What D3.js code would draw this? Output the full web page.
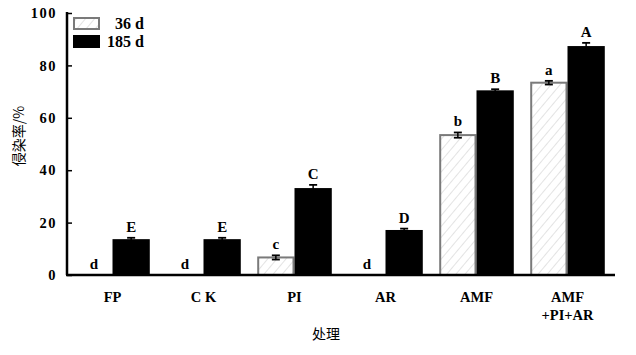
<!DOCTYPE html>
<html><head><meta charset="utf-8">
<script src="https://cdn.jsdelivr.net/npm/d3@7"></script>
<style>body{margin:0;background:#fff}</style>
</head><body>
<svg id="c" width="636" height="355"></svg>
<script>
const categories = ["FP", "C K", "PI", "AR", "AMF", "AMF\n+PI+AR"];
const seriesNames = ["36 d", "185 d"];
const values36 = [0, 0, 6.7, 0, 53.4, 73.4];
const errors36 = [0, 0, 0.8, 0, 1.0, 0.7];
const letters36 = ["d", "d", "c", "d", "b", "a"];
const values185 = [13.3, 13.3, 32.8, 16.8, 70.1, 87.0];
const errors185 = [0.9, 0.9, 1.6, 0.9, 0.8, 1.6];
const letters185 = ["E", "E", "C", "D", "B", "A"];
const yTicks = [0, 20, 40, 60, 80, 100];

const svg = d3.select("#c");
const defs = svg.append("defs");
const pat = defs.append("pattern").attr("id","hatch").attr("patternUnits","userSpaceOnUse")
  .attr("width",7).attr("height",7).attr("patternTransform","rotate(40)");
pat.append("rect").attr("width",7).attr("height",7).attr("fill","#fff");
pat.append("line").attr("x1",0).attr("y1",0).attr("x2",0).attr("y2",7).attr("stroke","#c8c8c8").attr("stroke-width",1);

const x0 = 67, x1 = 613, yTop = 13, yBot = 275;
const x = d3.scaleBand().domain(categories).range([x0, x1]).paddingInner(0).paddingOuter(0);
const xs = d3.scaleBand().domain(seriesNames).range([0, x.bandwidth()]).paddingInner(0).paddingOuter(0.22);
const y = d3.scaleLinear().domain([0, 100]).range([yBot, yTop]);

const serif = "'Liberation Serif','Times New Roman',serif";
const g = svg.append("g");

const data = categories.map((c,i)=>({c,i}));
const series = [
  {name: seriesNames[0], vals: values36, errs: errors36, lets: letters36, fill: "url(#hatch)", stroke: "#7a7a7a"},
  {name: seriesNames[1], vals: values185, errs: errors185, lets: letters185, fill: "#000", stroke: "#000"}
];

series.forEach(s => {
  data.forEach(d => {
    const v = s.vals[d.i];
    const bx = x(d.c) + xs(s.name);
    const bw = xs.bandwidth();
    if (v > 0) {
      g.append("rect").attr("x", bx + 1).attr("y", y(v)).attr("width", bw - 2).attr("height", y(0) - y(v))
        .attr("fill", s.fill).attr("stroke", s.stroke).attr("stroke-width", 2);
      const e = s.errs[d.i];
      const cx = bx + bw / 2;
      g.append("line").attr("x1", cx).attr("x2", cx).attr("y1", y(v + e)).attr("y2", y(v - e)).attr("stroke", "#000").attr("stroke-width", 1.5);
      g.append("line").attr("x1", cx - 4).attr("x2", cx + 4).attr("y1", y(v + e)).attr("y2", y(v + e)).attr("stroke", "#000").attr("stroke-width", 1.8);
      g.append("line").attr("x1", cx - 4).attr("x2", cx + 4).attr("y1", y(v - e)).attr("y2", y(v - e)).attr("stroke", "#000").attr("stroke-width", 1.8);
    }
    const e = s.errs[d.i];
    g.append("text").attr("x", bx + bw / 2).attr("y", y(v + e) - 6)
      .attr("text-anchor", "middle").attr("font-family", serif).attr("font-weight", "bold").attr("font-size", 15)
      .text(s.lets[d.i]);
  });
});

// axes
const yAxis = d3.axisLeft(y).tickValues(yTicks).tickSize(-5).tickPadding(10);
const ya = svg.append("g").attr("transform", `translate(${x0},0)`).call(yAxis);
ya.select(".domain").attr("stroke-width", 2.5).attr("d", `M0,${yTop - 1}V${yBot}`);
ya.selectAll(".tick line").attr("stroke-width", 1.5);
ya.selectAll("text").attr("font-family", serif).attr("font-weight", "bold").attr("font-size", 14.5).attr("letter-spacing", 1.5).attr("fill", "#000");

const xAxis = d3.axisBottom(x).tickSize(0).tickPadding(14).tickFormat(()=>"");
const xa = svg.append("g").attr("transform", `translate(0,${yBot})`).call(xAxis);
xa.select(".domain").attr("stroke-width", 2.5).attr("d", `M${x0 - 1},0H${x1 + 2}`);
xa.selectAll(".tick").each(function(d){
  const t = d3.select(this).append("text").attr("fill","#000").attr("text-anchor","middle")
    .attr("font-family", serif).attr("font-weight","bold").attr("font-size",14.5);
  d.split("\n").forEach((line, k) => {
    t.append("tspan").attr("x", 0).attr("y", 27 + k * 18).text(line);
  });
});

// axis titles
svg.append("text").attr("transform", "translate(24,136) rotate(-90)").attr("text-anchor","middle")
  .attr("font-family","'Noto Sans CJK SC',sans-serif").attr("font-size",14).attr("fill","#000").text("侵染率/%");
svg.append("text").attr("x", 326).attr("y", 339).attr("text-anchor","middle")
  .attr("font-family","'Noto Sans CJK SC',sans-serif").attr("font-size",14).attr("fill","#000").text("处理");

// legend
const lg = svg.append("g");
series.forEach((s, k) => {
  lg.append("rect").attr("x", 74).attr("y", 18 + k * 18).attr("width", 25).attr("height", 11)
    .attr("fill", s.fill).attr("stroke", s.stroke).attr("stroke-width", 2);
  lg.append("text").attr("x", 144).attr("y", 29 + k * 18).attr("text-anchor","end")
    .attr("font-family", serif).attr("font-weight","bold").attr("font-size",16).text(s.name);
});
</script>
</body></html>
